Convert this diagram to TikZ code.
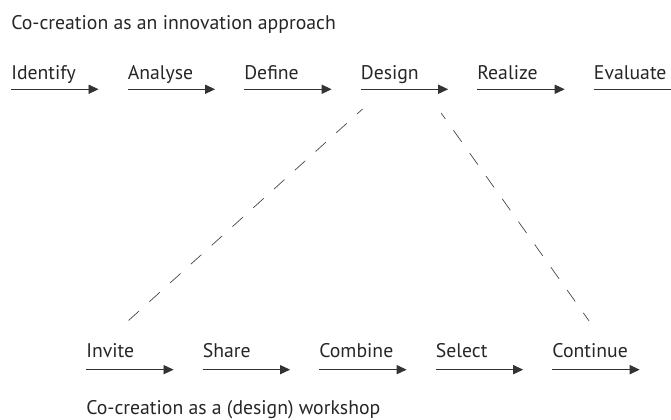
\documentclass[tikz,border=0pt]{standalone}
\usepackage{fontspec}
\setmainfont{PT Sans}
\usetikzlibrary{positioning,arrows.meta}

\begin{document}
\begin{tikzpicture}[
        x=0.75pt, y=0.75pt,
        phase/.style={inner sep=0pt, text width=65.25pt, align=left, font=\fontsize{14.8}{17}\selectfont, text=black!85},
        heading/.style={inner sep=0pt, anchor=base west, font=\fontsize{14.8}{17}\selectfont, text=black!85},
        flow/.style={draw=black!80, line width=0.65pt, -{Triangle[length=7.5pt,width=6.9pt]}},
        link/.style={draw=black!75, line width=0.5pt, dash pattern=on 10.5pt off 10.5pt, dash phase=5pt},
    ]
    \useasboundingbox (0,0) rectangle (671,419);

    %Titles
    \node[heading] (approach) at (11,390) {Co-creation as an innovation approach};
    \node[heading] (workshop) at (86,5) {Co-creation as a (design) workshop};

    %Innovation phases
    \node[phase, anchor=base west] (identify) at (11,340) {Identify};
    \node[phase](analyse)[base right=21.75pt of identify] {Analyse};
    \node[phase](define)[base right=21.75pt of analyse] {Define};
    \node[phase](design)[base right=21.75pt of define] {Design};
    \node[phase](realize)[base right=21.75pt of design] {Realize};
    \node[phase](evaluate)[base right=21.75pt of realize] {Evaluate};

    %Workshop steps
    \node[phase, anchor=base west] (invite) at (86,62) {Invite};
    \node[phase](share)[base right=21.75pt of invite] {Share};
    \node[phase](combine)[base right=21.75pt of share] {Combine};
    \node[phase](select)[base right=21.75pt of combine] {Select};
    \node[phase](continue)[base right=21.75pt of select] {Continue};

    %Arrows
    \foreach \n in {identify,analyse,define,design,realize,evaluate}
        \draw[flow] ([yshift=-7.7pt]\n.base west) -- ([yshift=-7.7pt]\n.base east);
    \foreach \n in {invite,share,combine,select,continue}
        \draw[flow] ([yshift=-9.5pt]\n.base west) -- ([yshift=-9.5pt]\n.base east);

    %Dashed links
    \draw[link] ([shift={(2,-30)}]design.base west) -- ([shift={(42,36)}]invite.base west);
    \draw[link] ([shift={(-7,-34)}]design.base east) -- ([shift={(37,36)}]continue.base west);
\end{tikzpicture}
\end{document}
